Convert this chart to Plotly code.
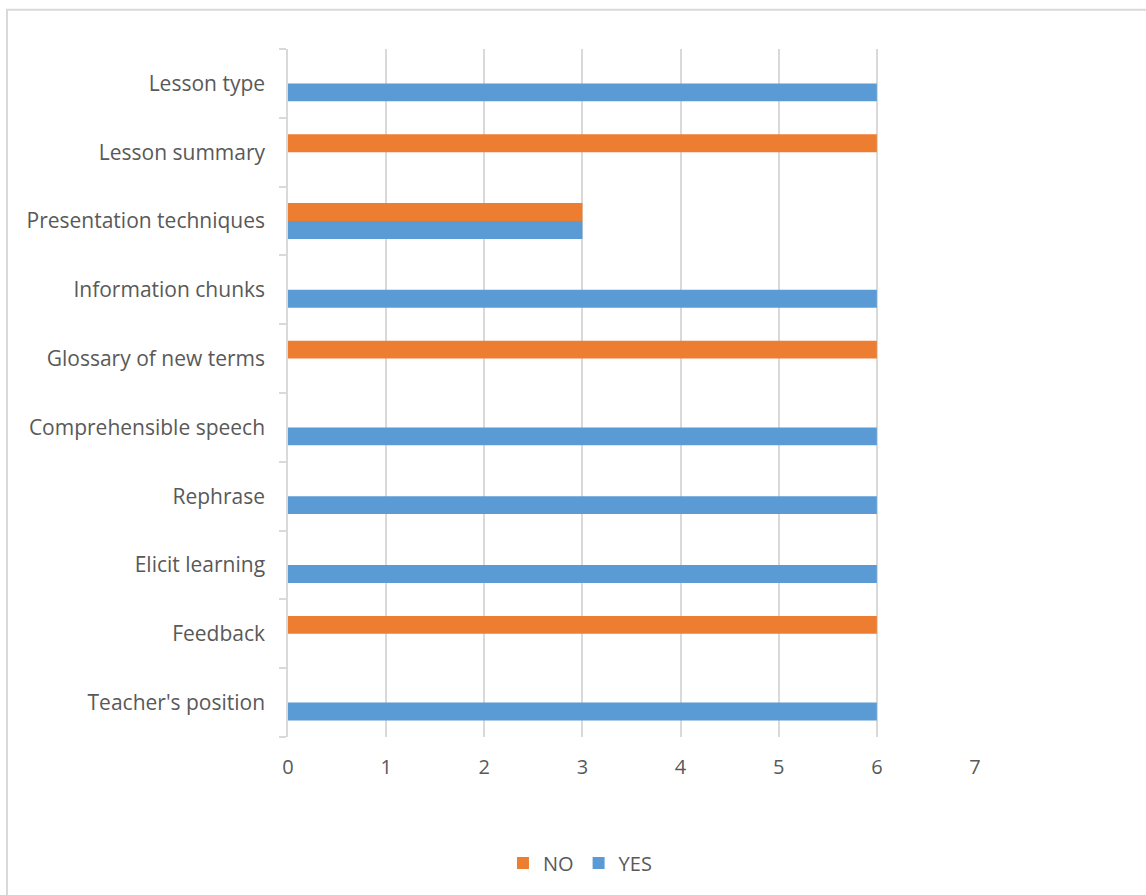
import plotly.graph_objects as go

# Checklist items, listed bottom to top as they appear on the axis
categories = [
    "Teacher's position",
    "Feedback",
    "Elicit learning",
    "Rephrase",
    "Comprehensible speech",
    "Glossary of new terms",
    "Information chunks",
    "Presentation techniques",
    "Lesson summary",
    "Lesson type",
]
yes_counts = [6, 0, 6, 6, 6, 0, 6, 3, 0, 6]
no_counts = [0, 6, 0, 0, 0, 6, 0, 3, 6, 0]
x_ticks = [0, 1, 2, 3, 4, 5, 6, 7]

BLUE = "#5B9BD5"
ORANGE = "#ED7D31"
TEXT = "#595959"
GRID = "#D9D9D9"
FONT = "Open Sans, Liberation Sans, sans-serif"

fig = go.Figure()
fig.add_trace(go.Bar(y=categories, x=yes_counts, orientation="h", name="YES",
                     marker=dict(color=BLUE, line=dict(width=0))))
fig.add_trace(go.Bar(y=categories, x=no_counts, orientation="h", name="NO",
                     marker=dict(color=ORANGE, line=dict(width=0))))

fig.update_layout(
    width=1146, height=895,
    paper_bgcolor="white", plot_bgcolor="white",
    margin=dict(l=288, r=171, t=49, b=158, autoexpand=False),
    barmode="group", bargap=0.48, bargroupgap=0,
    font=dict(family=FONT, color=TEXT, size=20),
    showlegend=True,
    legend=dict(orientation="h", traceorder="reversed",
                x=0.425, xanchor="center", xref="paper",
                y=-0.183, yanchor="middle", yref="paper",
                font=dict(size=20, color=TEXT, family=FONT),
                itemwidth=30, bgcolor="rgba(0,0,0,0)"),
    xaxis=dict(range=[0, 7], tickvals=x_ticks, ticktext=[str(v) for v in x_ticks],
               showgrid=True, gridcolor=GRID, gridwidth=1.5,
               zeroline=False, showline=False, ticks="",
               tickfont=dict(size=20, color=TEXT), ticklabelstandoff=16),
    yaxis=dict(type="category", categoryorder="array", categoryarray=categories,
               tickson="boundaries", ticks="outside", ticklen=7, tickcolor=GRID,
               tickwidth=1.5, showgrid=False, showline=True, linecolor=GRID,
               linewidth=1.5, zeroline=False,
               tickfont=dict(size=21, color=TEXT), ticklabelstandoff=17),
    shapes=[dict(type="rect", xref="paper", yref="paper",
                 x0=-0.409, x1=1.3, y0=-0.35, y1=1.057,
                 line=dict(color=GRID, width=2), fillcolor="rgba(0,0,0,0)",
                 layer="below")],
)

fig.write_html("out.html")
